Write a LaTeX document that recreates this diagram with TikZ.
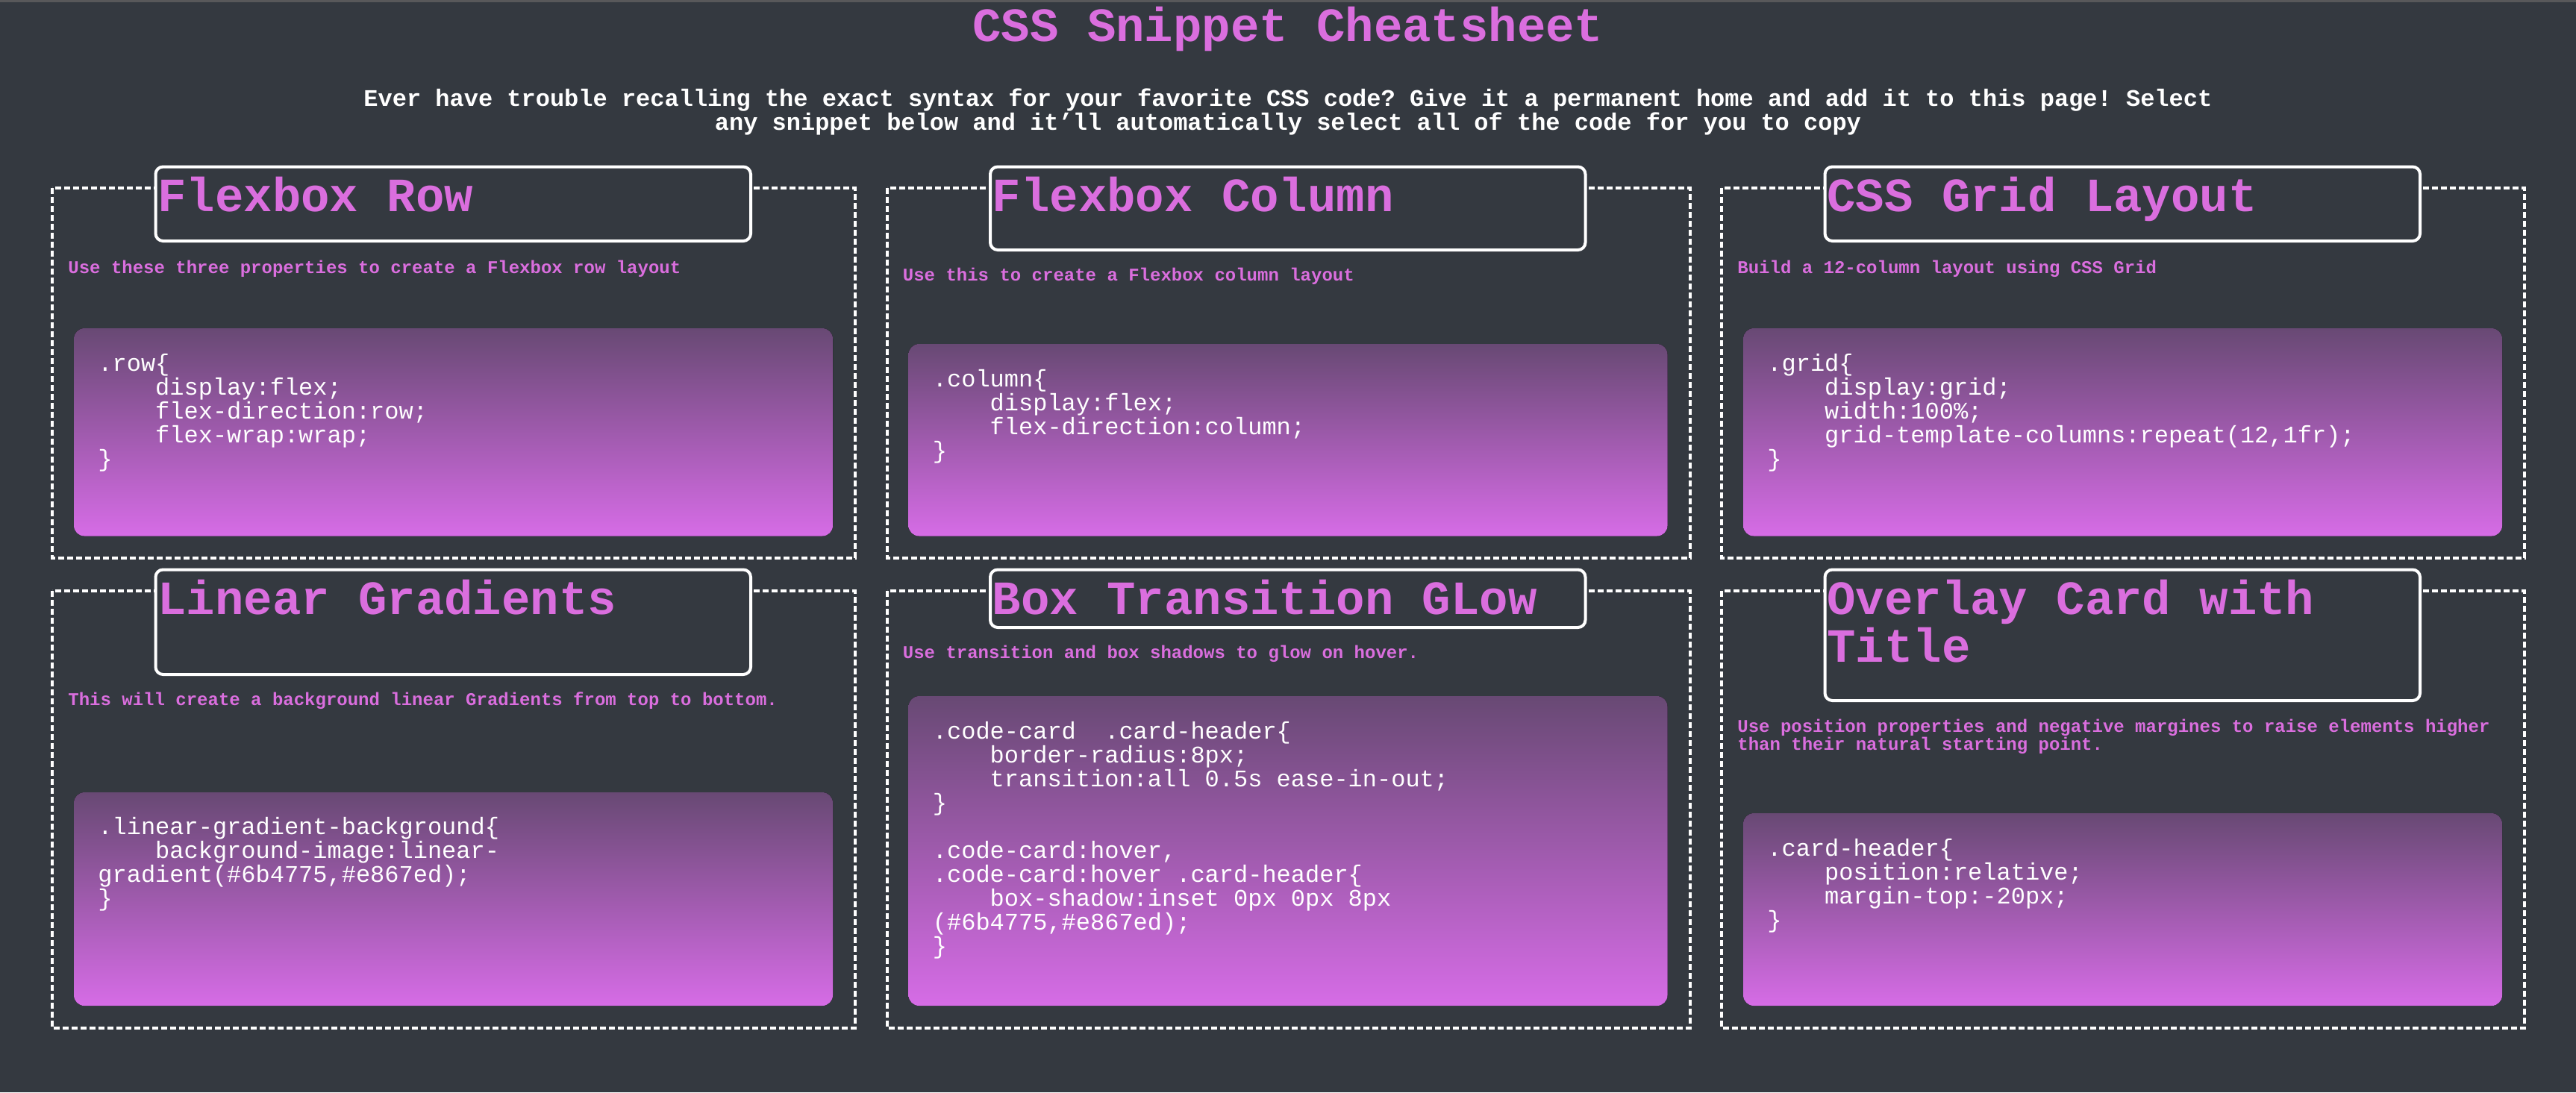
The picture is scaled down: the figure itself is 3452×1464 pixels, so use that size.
\documentclass[tikz,border=0pt]{standalone}
\usepackage{fontspec}
\setmonofont{Liberation Mono}
\definecolor{pagebg}{RGB}{52,57,64}
\definecolor{topbar}{RGB}{88,88,90}
\definecolor{snippink}{RGB}{218,110,222}
\definecolor{gradtop}{RGB}{104,73,116}
\definecolor{gradbot}{RGB}{214,108,230}
\tikzstyle{snipframe} = [draw=white, line width=2pt, dash pattern=on 4pt off 2pt]
\tikzstyle{snipheader} = [draw=white, fill=pagebg, line width=2pt, rounded corners=5pt]
\tikzstyle{codebox} = [rounded corners=7pt, top color=gradtop, bottom color=gradbot, draw=none]
\tikzstyle{cardtitle} = [anchor=base west, inner sep=0pt, text=snippink, font=\ttfamily\bfseries\fontsize{32}{32}\selectfont]
\tikzstyle{carddesc} = [anchor=base west, inner sep=0pt, text=snippink, font=\ttfamily\bfseries\fontsize{12}{12}\selectfont]
\tikzstyle{codetext} = [anchor=base west, inner sep=0pt, text=white, font=\ttfamily\fontsize{16}{16}\selectfont]
\newcommand{\codeindent}{\hspace*{38.4pt}}

\begin{document}
\begin{tikzpicture}[x=0.5pt, y=-0.5pt]

\useasboundingbox (0,0) rectangle (3452,1464);
\fill[pagebg] (0,0) rectangle (3452,1464);
\fill[topbar] (0,0) rectangle (3452,2.5);

% page heading
\node (heading) [anchor=base, inner sep=0pt, text=snippink, font=\ttfamily\bfseries\fontsize{32}{32}\selectfont] at (1726,55) {CSS Snippet Cheatsheet};
\node (intro) [anchor=base, inner sep=0pt, text=white, font=\ttfamily\bfseries\fontsize{16}{16}\selectfont] at (1726,142)
  {\parbox[t]{1320pt}{\centering Ever have trouble recalling the exact syntax for your favorite CSS code? Give it a permanent home and add it to this page! Select\\any snippet below and it’ll automatically select all of the code for you to copy}};

% top row
\draw[snipframe] (70,252) rectangle (1146,748);
\draw[snipframe] (1188.5,252) rectangle (2264.5,748);
\draw[snipframe] (2307,252) rectangle (3383,748);

\draw[snipheader] (208.5,223.5) rectangle (1006,323);
\draw[snipheader] (1327,223.5) rectangle (2124.5,335);
\draw[snipheader] (2445.5,223.5) rectangle (3243,323);

\node (rowtitle) [cardtitle] at (211,283) {Flexbox Row};
\node (coltitle) [cardtitle] at (1329.5,283) {Flexbox Column};
\node (gridtitle) [cardtitle] at (2448,283) {CSS Grid Layout};

\node (rowdesc) [carddesc] at (91,366) {Use these three properties to create a Flexbox row layout};
\node (coldesc) [carddesc] at (1209.5,376) {Use this to create a Flexbox column layout};
\node (griddesc) [carddesc] at (2328,366) {Build a 12-column layout using CSS Grid};

\fill[codebox] (99,440) rectangle (1116,718.5);
\fill[codebox] (1217.5,461) rectangle (2234.5,718.5);
\fill[codebox] (2336,440) rectangle (3353,718.5);

\node (rowcode) [codetext] at (131,497) {\parbox[t]{480pt}{.row\{\\
  \codeindent display:flex;\\
  \codeindent flex-direction:row;\\
  \codeindent flex-wrap:wrap;\\
  \}}};
\node (colcode) [codetext] at (1249.5,518) {\parbox[t]{480pt}{.column\{\\
  \codeindent display:flex;\\
  \codeindent flex-direction:column;\\
  \}}};
\node (gridcode) [codetext] at (2368,497) {\parbox[t]{480pt}{.grid\{\\
  \codeindent display:grid;\\
  \codeindent width:100\%;\\
  \codeindent grid-template-columns:repeat(12,1fr);\\
  \}}};

% bottom row
\draw[snipframe] (70,792) rectangle (1146,1378);
\draw[snipframe] (1188.5,792) rectangle (2264.5,1378);
\draw[snipframe] (2307,792) rectangle (3383,1378);

\draw[snipheader] (208.5,763.5) rectangle (1006,904);
\draw[snipheader] (1327,763.5) rectangle (2124.5,841);
\draw[snipheader] (2445.5,763.5) rectangle (3243,939);

\node (gradtitle) [cardtitle] at (211,823) {Linear Gradients};
\node (glowtitle) [cardtitle] at (1329.5,823) {Box Transition GLow};
\node (overlaytitle) [cardtitle] at (2448,823) {\parbox[t]{400pt}{Overlay Card with\\Title}};

\node (graddesc) [carddesc] at (91,945) {This will create a background linear Gradients from top to bottom.};
\node (glowdesc) [carddesc] at (1209.5,882) {Use transition and box shadows to glow on hover.};
\node (overlaydesc) [carddesc] at (2328,981) {\parbox[t]{520pt}{Use position properties and negative margines to raise elements higher\\than their natural starting point.}};

\fill[codebox] (99,1062) rectangle (1116,1348);
\fill[codebox] (1217.5,933) rectangle (2234.5,1348);
\fill[codebox] (2336,1090) rectangle (3353,1348);

\node (gradcode) [codetext] at (131,1118) {\parbox[t]{480pt}{.linear-gradient-background\{\\
  \codeindent background-image:linear-\\
  gradient(\#6b4775,\#e867ed);\\
  \}}};
\node (glowcode) [codetext] at (1249.5,990) {\parbox[t]{480pt}{.code-card\ \ .card-header\{\\
  \codeindent border-radius:8px;\\
  \codeindent transition:all 0.5s ease-in-out;\\
  \}\\
  \mbox{}\\
  .code-card:hover,\\
  .code-card:hover .card-header\{\\
  \codeindent box-shadow:inset 0px 0px 8px\\
  (\#6b4775,\#e867ed);\\
  \}}};
\node (overlaycode) [codetext] at (2368,1147) {\parbox[t]{480pt}{.card-header\{\\
  \codeindent position:relative;\\
  \codeindent margin-top:-20px;\\
  \}}};

\end{tikzpicture}
\end{document}
